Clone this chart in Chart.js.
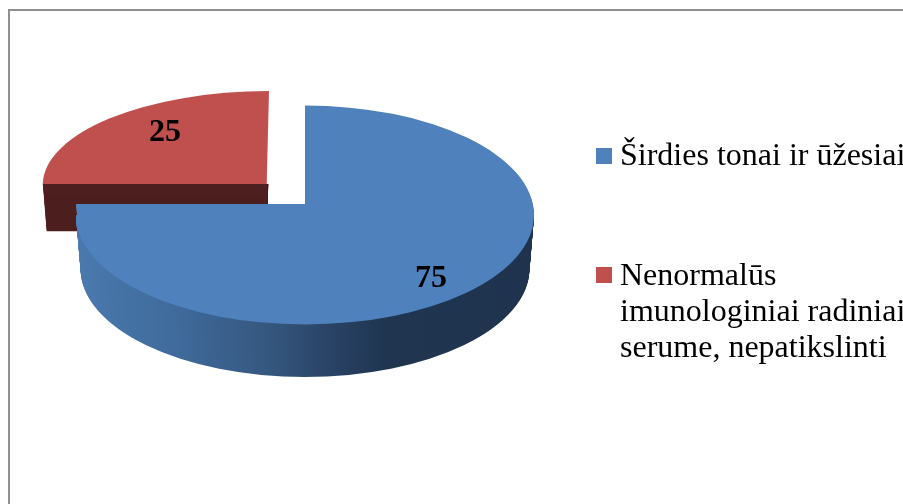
<!DOCTYPE html>
<html>
<head>
<meta charset="utf-8">
<style>
html,body{margin:0;padding:0;background:#fff;overflow:hidden}
canvas{display:block}
</style>
<script src="https://cdn.jsdelivr.net/npm/chart.js@4"></script>
</head>
<body>
<canvas id="c" width="903" height="504"></canvas>
<script>
const categories = ['Širdies tonai ir ūžesiai', 'Nenormalūs imunologiniai radiniai serume, nepatikslinti'];
const legendLines = [['Širdies tonai ir ūžesiai'], ['Nenormalūs', 'imunologiniai radiniai', 'serume, nepatikslinti']];
const seriesValues = [75, 25];
const sliceColors = ['#4f81bd', '#c0504d'];
const sliceOffsets = [0, 208];

const SERIF = '"Liberation Serif", "Times New Roman", serif';

function withColor(el, color, fn) {
  const o = el.options;
  el.options = new Proxy(o, { get: (t, k) => (k === 'backgroundColor' ? color : t[k]) });
  fn();
  el.options = o;
}
function place(ctx, el, X, Y, sx, sy, shear) {
  ctx.translate(X, Y);
  if (shear) ctx.transform(1, 0, shear, 1, 0, 0);
  ctx.scale(sx, sy);
  ctx.translate(-el.x, -el.y);
}
function lerp(a, b, t) { return a + (b - a) * t; }

const pie3d = {
  id: 'pie3d',
  beforeDraw(chart) {
    const ctx = chart.ctx;
    ctx.save();
    ctx.fillStyle = '#ffffff';
    ctx.fillRect(0, 0, chart.width, chart.height);
    ctx.fillStyle = '#8f8f8f';
    ctx.fillRect(8, 9, chart.width - 8, 2);
    ctx.fillRect(8, 9, 2, chart.height - 9);
    ctx.restore();
  },
  beforeDatasetDraw(chart, args) {
    const ctx = chart.ctx;
    const [blue, red] = chart.getDatasetMeta(args.index).data;
    const cx = blue.x;
    const redShear = -0.0246;

    // red wall, only below the front edge of the red top
    const redDepth = 47;
    withColor(red, '#4d1f1e', () => {
      for (let i = redDepth; i >= 1; i--) {
        const t = i / redDepth;
        ctx.save();
        ctx.beginPath();
        ctx.rect(0, 184, chart.width, chart.height - 184);
        ctx.clip();
        place(ctx, red, lerp(302.3, 302.1, t), 199 + i, lerp(0.978, 0.9625, t), lerp(0.406, 0.4, t), redShear);
        red.draw(ctx);
        ctx.restore();
      }
    });
    // red top
    ctx.save();
    place(ctx, red, 302.3, 199, 0.978, 0.406, redShear);
    red.draw(ctx);
    ctx.restore();

    // blue wall
    const g = ctx.createLinearGradient(76, 0, 534, 0);
    g.addColorStop(0, '#4a79ae');
    g.addColorStop(0.22, '#3f6a9b');
    g.addColorStop(0.42, '#35577f');
    g.addColorStop(0.53, '#2b466a');
    g.addColorStop(0.68, '#1f3550');
    g.addColorStop(1, '#1f334e');
    const blueDepth = 54;
    withColor(blue, g, () => {
      for (let i = blueDepth; i >= 1; i--) {
        const t = i / blueDepth;
        ctx.save();
        place(ctx, blue, cx, 215 + i, lerp(1, 0.98, t), lerp(0.478, 0.4716, t));
        blue.draw(ctx);
        ctx.restore();
      }
    });
    // blue top: raised rear edge of the lower-left part, then the full surface
    ctx.save();
    ctx.beginPath();
    ctx.rect(0, 204, cx, chart.height - 204);
    ctx.clip();
    place(ctx, blue, cx, 204, 1, 0.478);
    blue.draw(ctx);
    ctx.restore();
    ctx.save();
    place(ctx, blue, cx, 215, 1, 0.478);
    blue.draw(ctx);
    ctx.restore();
    return false;
  },
  afterDraw(chart) {
    const ctx = chart.ctx;
    ctx.save();
    ctx.fillStyle = '#000000';
    ctx.textBaseline = 'alphabetic';
    ctx.textAlign = 'center';
    ctx.font = 'bold 32px ' + SERIF;
    const vals = chart.data.datasets[0].data;
    ctx.fillText(String(vals[1]), 165, 141);
    ctx.fillText(String(vals[0]), 431, 287);

    ctx.textAlign = 'left';
    ctx.font = '32px ' + SERIF;
    ctx.fillStyle = sliceColors[0];
    ctx.fillRect(596, 148, 16, 16);
    ctx.fillStyle = sliceColors[1];
    ctx.fillRect(596, 267, 16, 16);
    ctx.fillStyle = '#000000';
    ctx.fillText(legendLines[0][0], 620, 165);
    ctx.fillText(legendLines[1][0], 620, 285);
    ctx.fillText(legendLines[1][1], 620, 321);
    ctx.fillText(legendLines[1][2], 620, 357);
    ctx.restore();
  }
};

new Chart(document.getElementById('c'), {
  type: 'pie',
  data: {
    labels: categories,
    datasets: [{
      data: seriesValues,
      backgroundColor: sliceColors,
      offset: sliceOffsets,
      borderWidth: 0,
      radius: 229
    }]
  },
  options: {
    responsive: false,
    animation: false,
    events: [],
    layout: { padding: { left: 0, top: 0, right: 293, bottom: 96 } },
    plugins: { legend: { display: false }, tooltip: { enabled: false }, title: { display: false } }
  },
  plugins: [pie3d]
});
</script>
</body>
</html>
